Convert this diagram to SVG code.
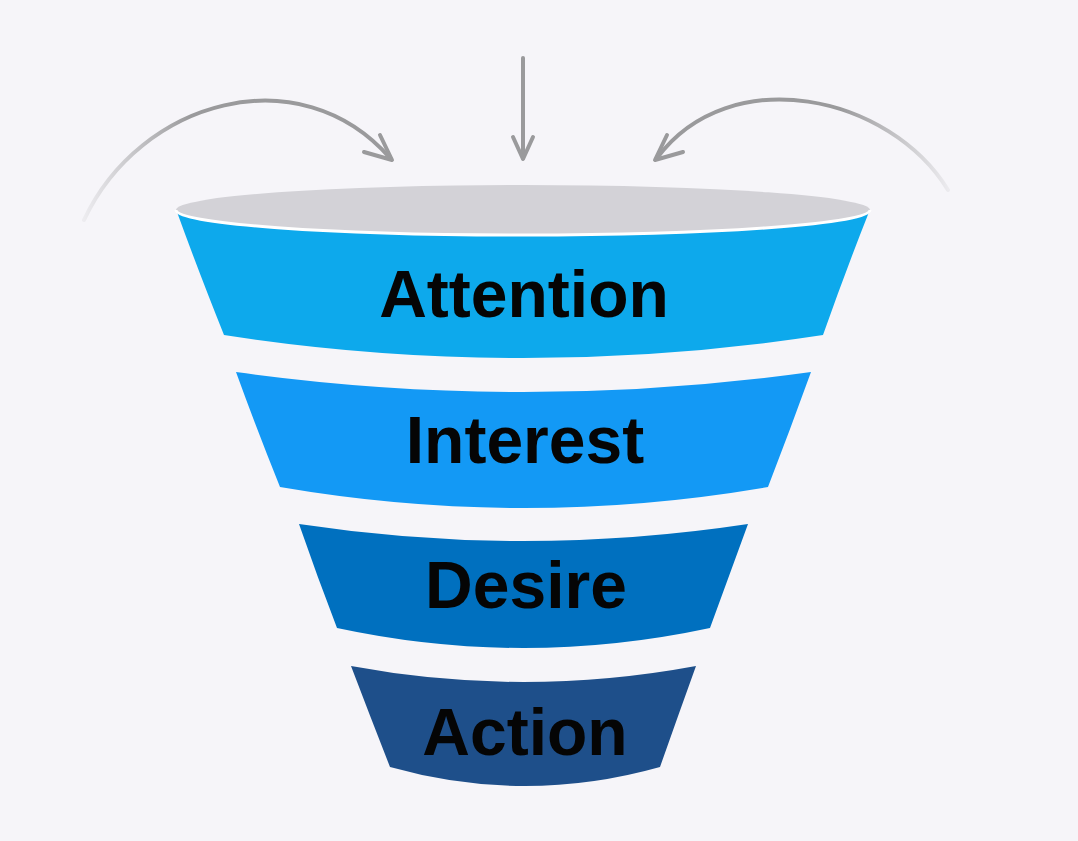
<svg xmlns="http://www.w3.org/2000/svg" width="1078" height="841" viewBox="0 0 1078 841">
<defs>
<style>
.lbl{font-family:"Liberation Sans",Arial,sans-serif;font-weight:bold;font-size:66px;fill:#050505;text-anchor:middle}
.arr{fill:none;stroke-width:4;stroke-linecap:round;stroke-linejoin:round}
</style>
<linearGradient id="gl" gradientUnits="userSpaceOnUse" x1="84" y1="0" x2="190" y2="0">
<stop offset="0" stop-color="#9a9a9c" stop-opacity="0.1"/>
<stop offset="1" stop-color="#9a9a9c" stop-opacity="1"/>
</linearGradient>
<linearGradient id="gr" gradientUnits="userSpaceOnUse" x1="950" y1="0" x2="840" y2="0">
<stop offset="0" stop-color="#9a9a9c" stop-opacity="0.1"/>
<stop offset="1" stop-color="#9a9a9c" stop-opacity="1"/>
</linearGradient>
</defs>
<rect width="1078" height="841" fill="#F6F5F9"/>
<g id="connectors">
<path class="arr" stroke="url(#gl)" d="M84 220 C140 100 300 55 390 158"/>
<polyline class="arr" stroke="#9a9a9c" points="380,135 392,160 364,152"/>
<path class="arr" stroke="url(#gr)" d="M948 190 C890 95 730 60 657 158"/>
<polyline class="arr" stroke="#9a9a9c" points="667,135 655,160 683,152"/>
<line class="arr" stroke="#9a9a9c" x1="523" y1="58" x2="523" y2="158"/>
<polyline class="arr" stroke="#9a9a9c" points="513,137 523,159 533,137"/>
</g>
<g id="attention">
<path fill="#0DA9EC" d="M177 212 Q198 270 224 335 Q523 381 823 335 Q846 270 869 212 Z"/>
<ellipse cx="523" cy="210" rx="347" ry="25" fill="#D3D2D7"/>
<path d="M870 210 A347 25 0 0 1 176 210" fill="none" stroke="#FFFFFF" stroke-width="3"/>
<text class="lbl" x="524" y="317">Attention</text>
</g>
<g id="interest">
<path fill="#1399F5" d="M236 372 Q523 412 811 372 Q790 430 768 487 Q524 529 280 487 Q257 430 236 372 Z"/>
<text class="lbl" x="525" y="463">Interest</text>
</g>
<g id="desire">
<path fill="#0070BF" d="M299 524 Q523 558 748 524 Q729 576 710 628 Q523 668 337 628 Q317 576 299 524 Z"/>
<text class="lbl" x="526" y="608">Desire</text>
</g>
<g id="action">
<path fill="#1E4F8A" d="M351 666 Q523 698 696 666 Q678 716 660 767 Q525 805 390 767 Q370 716 351 666 Z"/>
<text class="lbl" x="525" y="755">Action</text>
</g>
</svg>
